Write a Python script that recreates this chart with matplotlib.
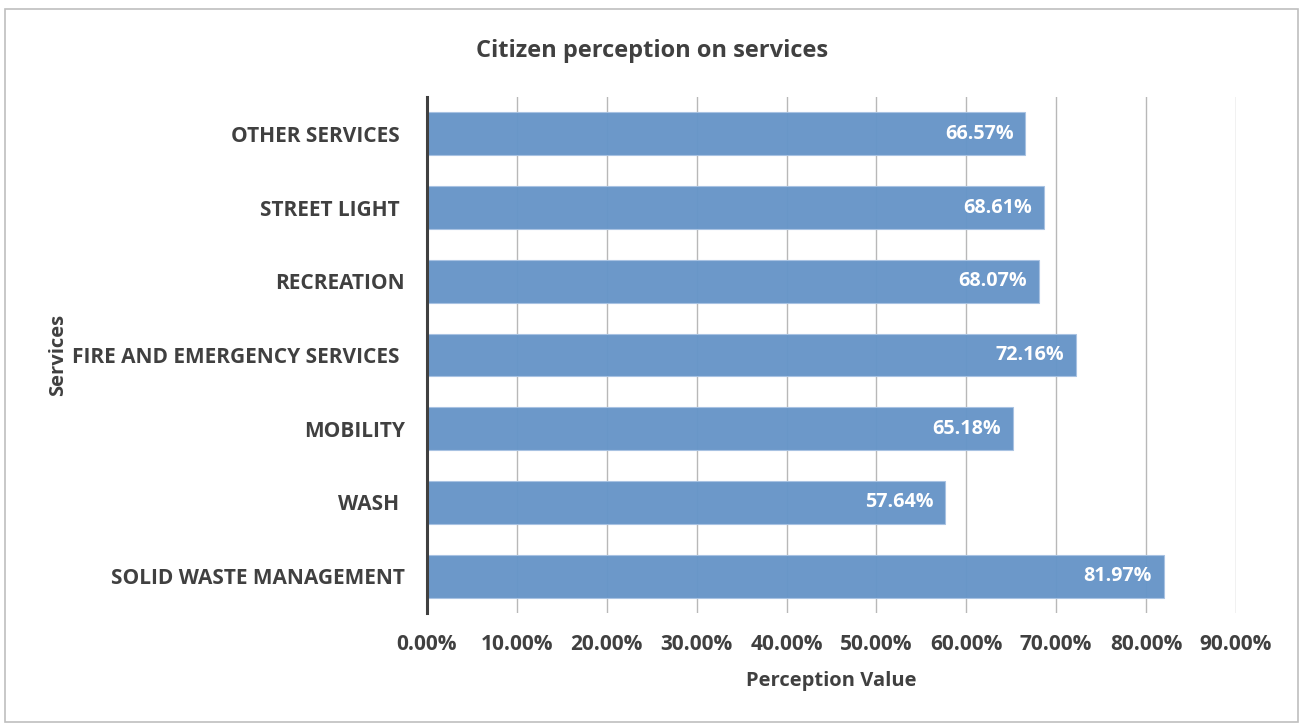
import matplotlib.pyplot as plt
from matplotlib.patches import Rectangle
from matplotlib.ticker import FuncFormatter

services = [
    "SOLID WASTE MANAGEMENT",
    "WASH ",
    "MOBILITY",
    "FIRE AND EMERGENCY SERVICES ",
    "RECREATION",
    "STREET LIGHT ",
    "OTHER SERVICES ",
]
perception = [81.97, 57.64, 65.18, 72.16, 68.07, 68.61, 66.57]
x_ticks = [0, 10, 20, 30, 40, 50, 60, 70, 80, 90]

TEXT = "#404040"
BAR = "#6795c8"

plt.rcParams["font.family"] = ["Open Sans", "DejaVu Sans"]
plt.rcParams["font.weight"] = "bold"

fig = plt.figure(figsize=(13.01, 7.25), dpi=100)
ax = fig.add_axes([0.3282, 0.1545, 0.6218, 0.7117])

pos = range(len(services))
ax.barh(pos, perception, height=0.58, color=BAR, edgecolor="#a8c2e2",
        linewidth=0.8, alpha=0.97, zorder=2)

for y, v in zip(pos, perception):
    ax.text(v - 1.3, y, f"{v:.2f}%", ha="right", va="center",
            color="white", fontsize=14.2, fontweight="bold", zorder=3)

ax.set_xlim(0, 90)
ax.set_ylim(-0.5, len(services) - 0.5)
ax.set_xticks(x_ticks)
ax.xaxis.set_major_formatter(FuncFormatter(lambda v, _: f"{v:.2f}%"))
ax.set_yticks(list(pos))
ax.set_yticklabels(services)

ax.grid(axis="x", color="#b8b8b8", linewidth=1.0, zorder=1)
ax.set_axisbelow(True)
for side in ("top", "right", "bottom"):
    ax.spines[side].set_visible(False)
ax.spines["left"].set_color(TEXT)
ax.spines["left"].set_linewidth(2.2)
ax.spines["left"].set_zorder(4)

ax.tick_params(axis="both", length=0, labelcolor=TEXT, labelsize=15)
ax.tick_params(axis="x", pad=15)
ax.tick_params(axis="y", pad=16)
for lbl in ax.get_xticklabels() + ax.get_yticklabels():
    lbl.set_fontweight("bold")

ax.set_xlabel("Perception Value", fontsize=14.5, fontweight="bold",
              color=TEXT, labelpad=12)
ax.set_ylabel("Services", fontsize=14.5, fontweight="bold", color=TEXT)
ax.yaxis.set_label_coords(-0.444, 0.5)

fig.text(0.5015, 0.930, "Citizen perception on services", ha="center",
         va="center", fontsize=17, fontweight="bold", color=TEXT)

# light frame around the whole chart
fig.patches.append(Rectangle((0.004, 0.004), 0.994, 0.984,
                             transform=fig.transFigure, fill=False,
                             edgecolor="#bfbfbf", linewidth=1.2))

fig.savefig("out.png", dpi=100)
